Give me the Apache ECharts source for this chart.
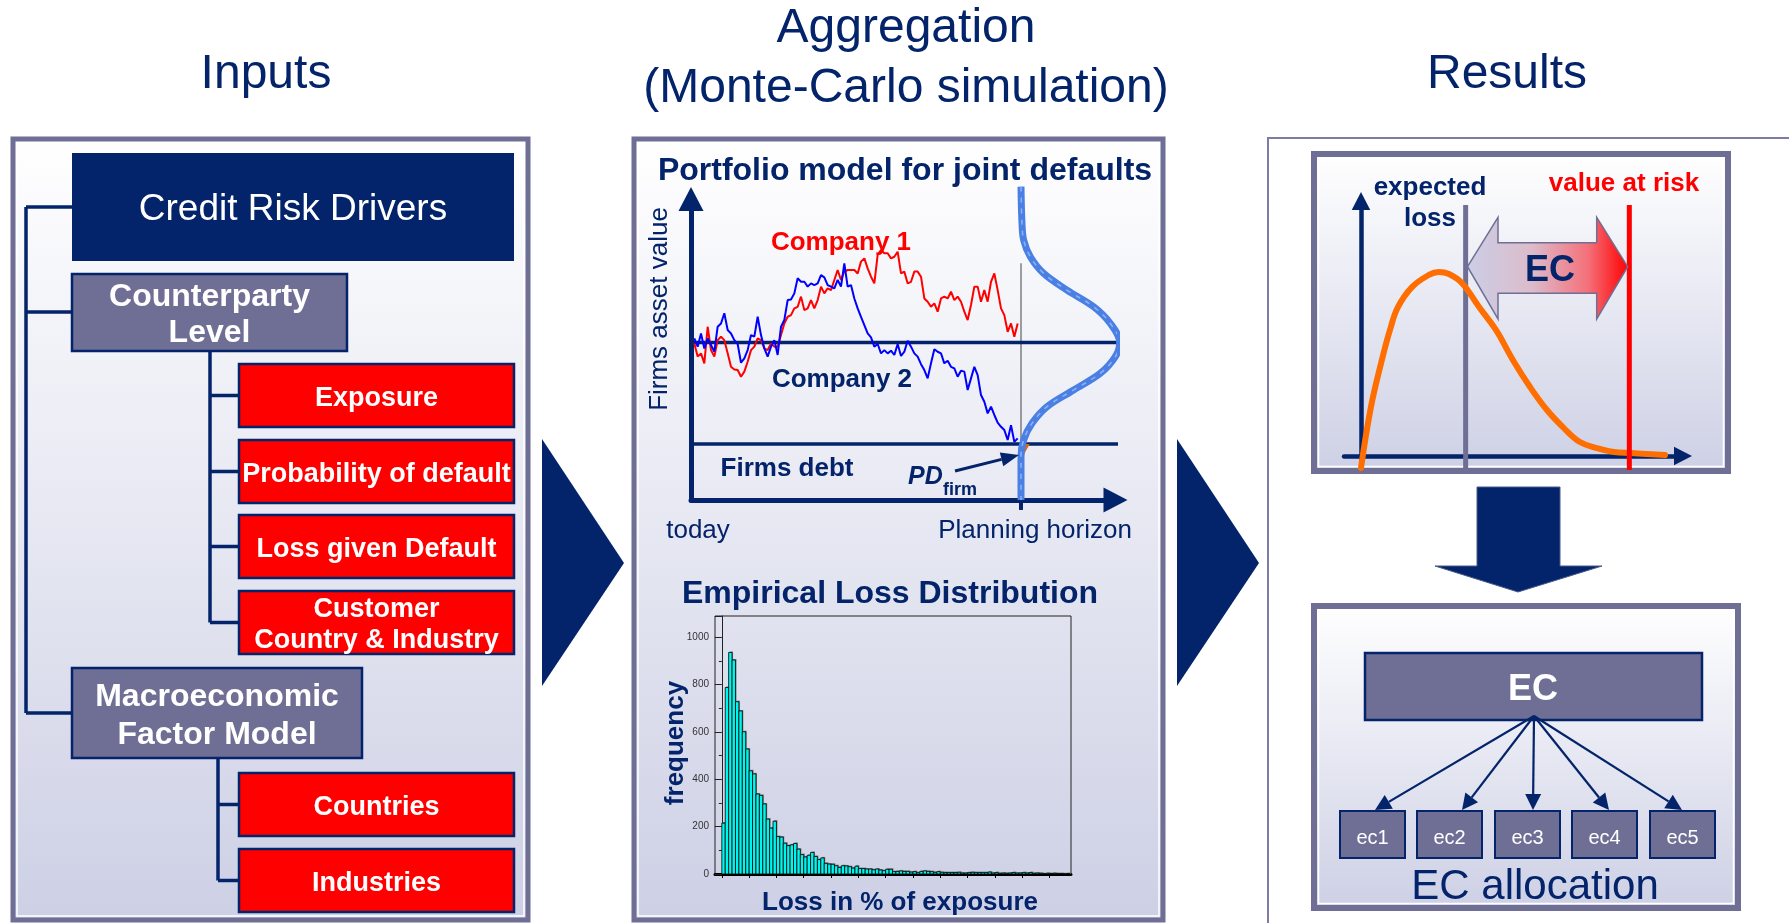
<!DOCTYPE html>
<html><head><meta charset="utf-8">
<script src="https://cdn.jsdelivr.net/npm/echarts@6/dist/echarts.min.js"></script>
<style>html,body{margin:0;padding:0;background:#fff}#c{width:1789px;height:923px}</style>
</head><body><div id="c"></div>
<script>
// ---------------- data ----------------
const columnTitles = ['Inputs', 'Aggregation\n(Monte-Carlo simulation)', 'Results'];
const rootDriver = 'Credit Risk Drivers';
const driverGroups = ['Counterparty\nLevel', 'Macroeconomic\nFactor Model'];
const counterpartyDrivers = ['Exposure', 'Probability of default', 'Loss given Default', 'Customer\nCountry & Industry'];
const macroDrivers = ['Countries', 'Industries'];

// simulated asset paths (time step 1..98, horizon = 99)
const company1 = [99.5,93,94.6,89.7,107.7,96.2,93,101.1,102.8,101.1,
  94.6,88,86.7,86.4,83.1,85.6,90.5,96.2,97.9,102,
  101.1,97,96.2,99.5,97.9,97.9,103.6,109.3,112.6,113.4,
  116.7,117.5,122.5,115.9,116.7,120.8,116.7,120.8,127.4,124.1,
  126.6,125.7,130.7,135.6,130.7,134.8,135.6,135.6,135.6,133.9,
  139.7,141.3,136.4,132.3,129,143,145.4,143.8,143.8,141.3,
  142.1,144.6,133.9,134.8,129,129.8,134.8,134.8,132.3,121.6,
  120,117.5,119.2,115.1,121.6,122.5,121.6,124.9,120.8,122.5,
  120,115.1,111,118.4,127.4,127.4,120,125.7,120,129.8,
  133.9,125.7,116.7,113.4,105.2,109.3,102.8,109.3];
const company2 = [102,97.9,104.4,97,102,98.7,95.4,107.7,109.3,114.3,
  106.1,104.4,101.1,99.2,90,92.1,96.2,103.6,102.8,112.6,
  103.6,97,93,97.9,101.1,93.8,107.7,111,120.8,121.1,
  124.1,131.5,129.8,129.8,127.4,129,128.2,129,133.1,132,
  128.2,127.4,126.6,130.7,127.4,138.9,127.4,128.2,121.6,116.7,
  112.6,108.5,104.4,102.5,97.9,99.2,94.6,96.2,94.6,95.9,
  93.8,99.2,93.3,95.4,100.8,97.9,94.6,93,89.3,86.4,
  82.3,89.7,96.6,95.4,94.6,89.7,91,88,87.2,83.1,
  86.1,85.6,76.6,82.3,88,83.9,74.1,70.8,65.1,68.4,
  64.3,60.5,58.5,56.9,52,59.3,51.1,52.8];
const horizon = 99;
const meanAssetValue = 100;
const firmsDebt = 50;
// asset value distribution at the planning horizon (asset value, width to the right of the horizon)
const densityAsset = [176.6,158.5,150.3,142.1,133.9,125.7,117.5,109.3,100,93,84.8,76.6,68.4,60.2,52,43.8,22.5];
const densityWidth = [0,0.3,0.8,2.8,6.8,13.8,21.8,26.8,29.6,28.3,23.8,15.8,7.8,3.3,0.8,0,0];
const pdWedge = [[98.6,50],[101.6,50],[99.8,44.6],[99,39.7]];

// empirical loss distribution
const lossFrequency = [215,788,936,904,728,689,601,528,436,423,
  338,332,296,232,194,223,158,156,130,120,
  123,129,105,82,72,79,91,74,61,68,
  45,42,41,35,28,35,34,31,25,33,
  23,23,21,21,18,21,17,14,20,20,
  10,11,13,11,11,8,10,6,11,13,
  11,10,7,10,7,6,6,6,6,7,
  4,4,6,7,6,6,6,6,8,4,
  6,3,4,3,4,6,4,4,6,4,
  6,3,4,3,1,3,2,3,2,2,
  1,2];
const histXTicks = [0,8,16,24,32,40,48,56,64,72,80,88,96];

// loss distribution curve (results)
const lossX = [0,0.37,0.75,1.08,1.38,1.9,2.53,2.9,3.28,3.76,4.4,5.03,5.66,6.3,6.93,7.56,8.16,8.79,9.43,10.06,11.33];
const lossDensity = [-0.065,0.266,0.505,0.685,0.81,0.918,0.984,1.0,0.989,0.94,0.81,0.685,0.522,0.375,0.25,0.152,0.076,0.043,0.022,0.016,0.005];
const expectedLoss = 3.9;
const valueAtRisk = 10;
const ecParts = ['ec1','ec2','ec3','ec4','ec5'];

// ---------------- styling / layout ----------------
const NAVY = '#03236a', SLATE = '#6f6f96', RED = '#ff0000';
const FONT = '"Liberation Sans", Arial, Helvetica, sans-serif';
const TY = 3; // vertical text nudge
const f = (w, s) => (w ? w + ' ' : '') + s + 'px ' + FONT;
const panelGrad = () => new echarts.graphic.LinearGradient(0, 0, 0, 1, [
  {offset: 0, color: '#ffffff'}, {offset: 1, color: '#cdd0e5'}]);

const g = [];
function rect(x, y, w, h, style, z) { g.push({type: 'rect', shape: {x, y, width: w, height: h}, style, z: z === undefined ? 10 : z}); }
function line(x1, y1, x2, y2, stroke, lw, z) { g.push({type: 'line', shape: {x1, y1, x2, y2}, style: {stroke, lineWidth: lw}, z: z === undefined ? 10 : z}); }
function poly(points, style, z) { g.push({type: 'polygon', shape: {points}, style, z: z === undefined ? 10 : z}); }
function text(t, x, y, font, fill, opts) {
  opts = opts || {};
  g.push({type: 'text', x, y: y + TY, rotation: opts.rotation || 0, z: 30,
    style: {text: t, font, fill, align: opts.align || 'center', verticalAlign: 'middle', lineHeight: opts.lineHeight}});
}
function arrow(x1, y1, x2, y2, lw, hl, hw, color) {
  const a = Math.atan2(y2 - y1, x2 - x1);
  const bx = x2 - hl * Math.cos(a), by = y2 - hl * Math.sin(a);
  line(x1, y1, bx, by, color, lw, 20);
  const px = -Math.sin(a) * hw / 2, py = Math.cos(a) * hw / 2;
  poly([[x2, y2], [bx + px, by + py], [bx - px, by - py]], {fill: color}, 20);
}

// column titles
text(columnTitles[0], 266, 72, f('', 48), NAVY);
text(columnTitles[1], 906, 56, f('', 48), NAVY, {lineHeight: 60});
text(columnTitles[2], 1507, 72, f('', 48), NAVY);

// panels
rect(13, 139, 515, 781, {fill: panelGrad(), stroke: SLATE, lineWidth: 5}, -4);
rect(17, 143, 507, 773, {fill: 'none', stroke: '#fff', lineWidth: 1.5}, -4);
rect(634, 139, 529, 781, {fill: panelGrad(), stroke: SLATE, lineWidth: 5}, -4);
rect(638, 143, 521, 773, {fill: 'none', stroke: '#fff', lineWidth: 1.5}, -4);
rect(1268, 138, 600, 900, {fill: '#fff', stroke: '#7c7ca6', lineWidth: 2}, -5);

// chevrons
poly([[542, 439], [624, 563], [542, 686]], {fill: NAVY}, 10);
poly([[1177, 439], [1259, 563], [1177, 686]], {fill: NAVY}, 10);

// ---- Inputs tree ----
rect(72, 153, 442, 108, {fill: NAVY}, 10);
text(rootDriver, 293, 207, f('', 37), '#fff');
const groupBoxes = [[72, 274, 275, 77], [72, 668, 290, 90]];
const groupConn = [312, 713];
line(26, 207, 26, 713, NAVY, 3.5);
line(26, 207, 72, 207, NAVY, 3.5);
driverGroups.forEach((t, i) => {
  const b = groupBoxes[i];
  line(26, groupConn[i], 72, groupConn[i], NAVY, 3.5);
  rect(b[0], b[1], b[2], b[3], {fill: SLATE, stroke: NAVY, lineWidth: 2.5}, 10);
  text(t, b[0] + b[2] / 2, b[1] + b[3] / 2, f('bold', 32), '#fff', {lineHeight: i === 0 ? 36 : 38});
});
function drivers(list, tops, trunkX, topY) {
  const mids = tops.map(y => y + 31.5);
  line(trunkX, topY, trunkX, mids[mids.length - 1], NAVY, 3.5);
  list.forEach((t, i) => {
    line(trunkX, mids[i], 239, mids[i], NAVY, 3.5);
    rect(239, tops[i], 275, 63, {fill: RED, stroke: NAVY, lineWidth: 2.5}, 10);
    text(t, 376.5, mids[i], f('bold', 27), '#fff', {lineHeight: 31});
  });
}
drivers(counterpartyDrivers, [364, 440, 515, 591], 210, 351);
drivers(macroDrivers, [773, 849], 218, 758);

// ---- Aggregation panel texts ----
text('Portfolio model for joint defaults', 905, 168, f('bold', 32), NAVY);
text('Firms asset value', 660, 306, f('', 26), NAVY, {rotation: Math.PI / 2});
text('Company 1', 841, 240, f('bold', 26), RED);
text('Company 2', 842, 377, f('bold', 26), NAVY);
text('Firms debt', 787, 466, f('bold', 26), NAVY);
text('PD', 908, 474, 'italic bold 25px ' + FONT, NAVY, {align: 'left'});
text('firm', 943, 487, f('bold', 18), NAVY, {align: 'left'});
arrow(955, 471, 1019, 455, 3, 18, 14, NAVY);
text('today', 698, 528, f('', 26), NAVY);
text('Planning horizon', 1035, 528, f('', 26), NAVY);
text('Empirical Loss Distribution', 890, 591, f('bold', 32), NAVY);
text('frequency', 676, 740, f('bold', 26), NAVY, {rotation: Math.PI / 2});
text('Loss in % of exposure', 900, 900, f('bold', 26), NAVY);

// ---- Results ----
rect(1314, 154, 414, 317, {fill: panelGrad(), stroke: SLATE, lineWidth: 6}, -4);
rect(1318.5, 158.5, 405, 308, {fill: 'none', stroke: '#fff', lineWidth: 1.5}, -4);
text('expected\nloss', 1430, 200, f('bold', 26), NAVY, {lineHeight: 31});
text('value at risk', 1624, 181, f('bold', 26), RED);
poly([[1467.5, 266.7], [1498, 217.3], [1498, 242.7], [1596.7, 242.7], [1596.7, 217.3], [1627.7, 266.7],
      [1596.7, 319], [1596.7, 293.3], [1498, 293.3], [1498, 319]],
  {fill: new echarts.graphic.LinearGradient(0, 0, 1, 0, [
    {offset: 0, color: '#cbcee6'}, {offset: 0.4, color: '#dcbccb'}, {offset: 0.75, color: '#f4707a'}, {offset: 1, color: '#ff0000'}]),
   stroke: SLATE, lineWidth: 1.5}, 25);
text('EC', 1550, 268, f('bold', 36), NAVY);
// down arrow
poly([[1477, 487], [1560, 487], [1560, 566], [1602, 566], [1518, 592], [1435, 566], [1477, 566]],
  {fill: NAVY, stroke: '#4a5a8a', lineWidth: 1}, 10);
// EC allocation
rect(1314, 606, 424, 302, {fill: panelGrad(), stroke: SLATE, lineWidth: 6}, -4);
rect(1318.5, 610.5, 415, 293, {fill: 'none', stroke: '#fff', lineWidth: 1.5}, -4);
rect(1365, 653, 337, 67, {fill: SLATE, stroke: NAVY, lineWidth: 2.5}, 10);
text('EC', 1533, 687, f('bold', 36), '#fff');
const ecBoxX = [1340, 1417, 1495, 1572, 1650];
const ecTipX = [1375, 1462, 1533, 1609, 1682];
ecParts.forEach((t, i) => {
  rect(ecBoxX[i], 811, 65, 47, {fill: SLATE, stroke: NAVY, lineWidth: 2}, 10);
  text(t, ecBoxX[i] + 32.5, 835, f('', 20), '#fff');
  arrow(1534, 716, ecTipX[i], 810, 2.2, 16, 16, NAVY);
});
text('EC allocation', 1535, 884, f('', 42), NAVY);

// ---------------- chart ----------------
const chart = echarts.init(document.getElementById('c'), null, {renderer: 'canvas'});
const noAxisExtras = {axisLabel: {show: false}, axisTick: {show: false}, splitLine: {show: false}};
const arrowAxisLine = (w, size) => ({show: true, lineStyle: {color: NAVY, width: w}, symbol: ['none', 'triangle'], symbolSize: size});

chart.setOption({
  animation: false,
  backgroundColor: '#ffffff',
  grid: [
    {left: 691, right: 1789 - 1115.5, top: 199, bottom: 923 - 500},
    {left: 715, right: 1789 - 1071, top: 616, bottom: 923 - 874, show: true, borderColor: '#222', borderWidth: 1, backgroundColor: 'transparent'},
    {left: 1344, right: 1789 - 1683, top: 201, bottom: 923 - 463}
  ],
  xAxis: [
    Object.assign({gridIndex: 0, type: 'value', min: 0, max: 127.35, axisLine: arrowAxisLine(5, [25, 24])}, noAxisExtras),
    {gridIndex: 1, type: 'value', min: -2, max: 102.3, splitLine: {show: false}, axisLabel: {show: false},
     axisLine: {lineStyle: {color: '#000', width: 3}},
     axisTick: {show: true, customValues: histXTicks, length: 4, lineStyle: {color: '#000', width: 1}}},
    Object.assign({gridIndex: 2, type: 'value', min: -0.633, max: 12.0, axisLine: arrowAxisLine(4.5, [18.5, 18])}, noAxisExtras)
  ],
  yAxis: [
    Object.assign({gridIndex: 0, type: 'value', min: 22.5, max: 170.5, axisLine: arrowAxisLine(5, [25, 24])}, noAxisExtras),
    {gridIndex: 1, type: 'value', min: 0, max: 1090, interval: 200, splitLine: {show: false},
     axisLine: {show: true, lineStyle: {color: '#222', width: 1}},
     axisTick: {show: true, length: 7, lineStyle: {color: '#222'}},
     minorTick: {show: true, splitNumber: 2, length: 3, lineStyle: {color: '#222'}},
     axisLabel: {fontSize: 10, color: '#333', margin: 6, showMaxLabel: false, fontFamily: FONT, formatter: v => String(v)}},
    Object.assign({gridIndex: 2, type: 'value', min: -0.038, max: 1.386, axisLine: arrowAxisLine(4.5, [18.5, 18])}, noAxisExtras)
  ],
  series: [
    // --- portfolio model ---
    {type: 'line', xAxisIndex: 0, yAxisIndex: 0, clip: false, symbol: 'none', z: 3,
     data: [[0.6, meanAssetValue], [131.4, meanAssetValue]], lineStyle: {color: NAVY, width: 3.5}},
    {type: 'line', xAxisIndex: 0, yAxisIndex: 0, clip: false, symbol: 'none', z: 3,
     data: [[-0.9, firmsDebt], [131.4, firmsDebt]], lineStyle: {color: NAVY, width: 3.5}},
    {type: 'line', xAxisIndex: 0, yAxisIndex: 0, clip: false, symbol: 'none', z: 2,
     data: [[horizon, 22.5], [horizon, 138.9]], lineStyle: {color: '#444', width: 1}},
    {type: 'line', xAxisIndex: 0, yAxisIndex: 0, clip: false, symbol: 'none', z: 3,
     data: [[horizon, 22.5], [horizon, 17.6]], lineStyle: {color: NAVY, width: 4}},
    {type: 'line', xAxisIndex: 0, yAxisIndex: 0, symbol: 'none', z: 4,
     data: company1.map((v, i) => [i + 1, v]), lineStyle: {color: '#ff0000', width: 2}},
    {type: 'line', xAxisIndex: 0, yAxisIndex: 0, symbol: 'none', z: 4,
     data: company2.map((v, i) => [i + 1, v]), lineStyle: {color: '#0000ff', width: 2}},
    {type: 'custom', xAxisIndex: 0, yAxisIndex: 0, z: 5, data: [0],
     renderItem: (params, api) => ({type: 'polygon', shape: {points: pdWedge.map(p => api.coord(p))}, style: {fill: '#d9661a'}})},
    {type: 'line', xAxisIndex: 0, yAxisIndex: 0, clip: false, symbol: 'none', smooth: 0.35, z: 6,
     data: densityAsset.map((v, i) => [horizon + densityWidth[i], v]), lineStyle: {color: '#4a80e4', width: 7}},
    {type: 'line', xAxisIndex: 0, yAxisIndex: 0, clip: false, symbol: 'none', smooth: 0.35, z: 7,
     data: densityAsset.map((v, i) => [horizon + densityWidth[i], v]), lineStyle: {color: '#8fb2f2', width: 1.5, type: [5, 6]}},
    // --- histogram ---
    {type: 'custom', xAxisIndex: 1, yAxisIndex: 1, z: 4,
     data: lossFrequency.map((v, i) => [i, v]),
     renderItem: (params, api) => {
       const i = api.value(0), v = api.value(1);
       const p0 = api.coord([i, v]), p1 = api.coord([i + 1, 0]);
       const w = p1[0] - p0[0], h = p1[1] - p0[1];
       return {type: 'group', children: [
         {type: 'rect', shape: {x: p0[0] + 1, y: p0[1] - 1, width: w, height: h + 1}, style: {fill: '#777'}},
         {type: 'rect', shape: {x: p0[0], y: p0[1], width: w, height: h}, style: {fill: '#00f5ee', stroke: '#000', lineWidth: 0.8}}
       ]};
     }},
    // --- results curve ---
    {type: 'line', xAxisIndex: 2, yAxisIndex: 2, clip: false, symbol: 'none', smooth: 0.4, z: 4,
     data: lossX.map((x, i) => [x, lossDensity[i]]), lineStyle: {color: '#ff6e00', width: 6, cap: 'round'}},
    {type: 'line', xAxisIndex: 2, yAxisIndex: 2, clip: false, symbol: 'none', z: 3,
     data: [[expectedLoss, -0.065], [expectedLoss, 1.364]], lineStyle: {color: SLATE, width: 5}},
    {type: 'line', xAxisIndex: 2, yAxisIndex: 2, clip: false, symbol: 'none', z: 5,
     data: [[valueAtRisk, -0.076], [valueAtRisk, 1.364]], lineStyle: {color: RED, width: 5}}
  ],
  graphic: {elements: g}
});
</script>
</body></html>
